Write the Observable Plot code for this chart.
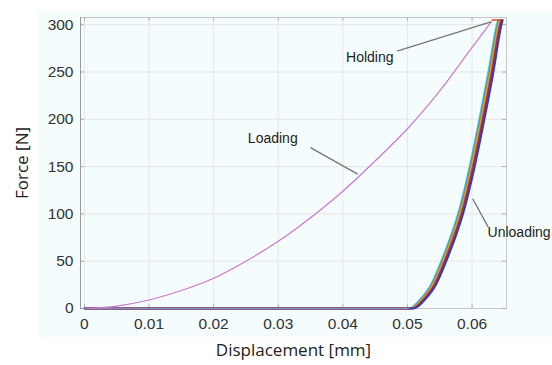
<!DOCTYPE html>
<html>
<head>
<meta charset="utf-8">
<script src="https://cdn.jsdelivr.net/npm/d3@7"></script>
<script src="https://cdn.jsdelivr.net/npm/@observablehq/plot@0.6"></script>
<style>
  html, body { margin: 0; padding: 0; background: #ffffff; }
  #chart { position: relative; width: 552px; height: 365px; }
  .bg { position: absolute; left: 38px; top: 12px; width: 514px; height: 325px; background: #f5fcfe; }
  #chart svg { position: absolute; left: 0; top: 0; }
  #chart svg g[aria-label*="axis"],
  #chart svg g[aria-label*="axis"] text { font-size: 15.5px !important; fill: #333; }
</style>
</head>
<body>
<div id="chart"><div class="bg"></div></div>
<script>
// ---- data ----
const xTicks = [0, 0.01, 0.02, 0.03, 0.04, 0.05, 0.06];
const xTickLabels = ["0", "0.01", "0.02", "0.03", "0.04", "0.05", "0.06"];
const yTicks = [0, 50, 100, 150, 200, 250, 300];

const loadingDisp  = [0.0005, 0.005, 0.01, 0.015, 0.02, 0.025, 0.03, 0.035, 0.04, 0.045, 0.05, 0.055, 0.06, 0.0632];
const loadingForce = [0, 2.5, 9, 19, 32, 50, 71, 96, 124, 156, 190, 230, 276, 305];

const holdingDisp  = [0.0632, 0.0643];
const holdingForce = [305, 305];

const unloadForce = [0, 0, 2, 10, 25, 50, 75, 100, 150, 200, 250, 300, 305];
const unloadColors = ["#4dbeee", "#3a9ee0", "#77ac30", "#edb120", "#d95319", "#c0202a", "#7e2f8e", "#2b3fc0"];
const unloadDisp = [
  [0, 0.05030, 0.05080, 0.05200, 0.05360, 0.05520, 0.05660, 0.05780, 0.05960, 0.06110, 0.06250, 0.06380, 0.06400],
  [0, 0.05042, 0.05092, 0.05212, 0.05372, 0.05532, 0.05672, 0.05792, 0.05972, 0.06122, 0.06262, 0.06392, 0.06411],
  [0, 0.05054, 0.05104, 0.05224, 0.05384, 0.05544, 0.05684, 0.05804, 0.05984, 0.06134, 0.06274, 0.06403, 0.06422],
  [0, 0.05066, 0.05116, 0.05236, 0.05396, 0.05556, 0.05696, 0.05816, 0.05996, 0.06146, 0.06286, 0.06414, 0.06433],
  [0, 0.05078, 0.05128, 0.05248, 0.05408, 0.05568, 0.05708, 0.05828, 0.06008, 0.06158, 0.06298, 0.06425, 0.06444],
  [0, 0.05090, 0.05140, 0.05260, 0.05420, 0.05580, 0.05720, 0.05840, 0.06020, 0.06170, 0.06310, 0.06436, 0.06455],
  [0, 0.05102, 0.05152, 0.05272, 0.05432, 0.05592, 0.05732, 0.05852, 0.06032, 0.06182, 0.06322, 0.06447, 0.06466],
  [0, 0.05114, 0.05164, 0.05284, 0.05444, 0.05604, 0.05744, 0.05864, 0.06044, 0.06194, 0.06334, 0.06458, 0.06477]
];

const annLabels = ["Holding", "Loading", "Unloading"];
const annX = [0.0405, 0.0253, 0.0624];
const annY = [265, 180, 80];
const leaderX1 = [0.0484, 0.0350, 0.0601];
const leaderY1 = [272, 170, 116];
const leaderX2 = [0.0629, 0.0423, 0.0625];
const leaderY2 = [303, 142, 86];

// ---- build tables ----
const loading = loadingDisp.map((d, i) => ({d, f: loadingForce[i]}));
const holding = holdingDisp.map((d, i) => ({d, f: holdingForce[i]}));
const unload = [];
unloadDisp.forEach((arr, s) => arr.forEach((d, i) => unload.push({s, d, f: unloadForce[i]})));
const ann = annLabels.map((t, i) => ({t, x: annX[i], y: annY[i]}));
const leaders = leaderX1.map((x1, i) => ({x1, y1: leaderY1[i], x2: leaderX2[i], y2: leaderY2[i]}));

const font = "Liberation Sans, Arial, Helvetica, sans-serif";
const xMin = -0.0006, xMax = 0.06533, yMax = 307.6;

const chart = Plot.plot({
  width: 552,
  height: 365,
  marginLeft: 80,
  marginRight: 46,
  marginTop: 17,
  marginBottom: 57,
  style: {background: "transparent", fontFamily: font, color: "#333"},
  x: {domain: [xMin, xMax], label: null},
  y: {domain: [0, yMax], label: null},
  marks: [
    Plot.gridX(xTicks, {stroke: "#e6e6e6", strokeOpacity: 1}),
    Plot.gridY(yTicks, {stroke: "#e6e6e6", strokeOpacity: 1}),
    Plot.frame({stroke: "#c8c8c8"}),
    Plot.axisX(xTicks, {tickSize: 0, tickPadding: 9, tickFormat: (d, i) => xTickLabels[i], fontSize: 15.5, fill: "#333", label: null}),
    Plot.axisY(yTicks, {tickSize: 0, tickPadding: 7, fontSize: 15.5, fill: "#333", label: null}),
    Plot.ruleX(xTicks, {x: d => d, y1: 0, y2: 4, stroke: "#b0b0b0"}),
    Plot.ruleX(xTicks, {x: d => d, y1: yMax - 4, y2: yMax, stroke: "#b0b0b0"}),
    Plot.ruleY(yTicks, {y: d => d, x1: xMin, x2: xMin + 0.0006, stroke: "#b0b0b0"}),
    Plot.ruleY(yTicks, {y: d => d, x1: xMax - 0.0006, x2: xMax, stroke: "#b0b0b0"}),
    Plot.ruleX([xMin], {stroke: "#9a9a9a"}),
    Plot.line(unload, {x: "d", y: "f", z: "s", stroke: d => unloadColors[d.s], curve: "monotone-x", strokeWidth: 1.6}),
    Plot.ruleY([0], {stroke: "#7d8fb8", strokeWidth: 1.2, x1: xMin, x2: 0.0503}),
    Plot.line(loading, {x: "d", y: "f", stroke: "#cc77cc", strokeWidth: 1.2, curve: "catmull-rom"}),
    Plot.line(holding, {x: "d", y: "f", stroke: "#d95319", strokeWidth: 1.4}),
    Plot.link(leaders, {x1: "x1", y1: "y1", x2: "x2", y2: "y2", stroke: "#777", strokeWidth: 1.3}),
    Plot.text(ann, {x: "x", y: "y", text: "t", textAnchor: "start", fontSize: 14, fill: "#222", fontFamily: font}),
    Plot.text(["Displacement [mm]"], {frameAnchor: "bottom", textAnchor: "middle", dy: 47, fontSize: 17, fill: "#222", fontFamily: "Open Sans, Noto Sans, sans-serif"}),
    Plot.text(["Force [N]"], {frameAnchor: "left", textAnchor: "middle", dx: -58, rotate: -90, fontSize: 17, fill: "#222", fontFamily: "Open Sans, Noto Sans, sans-serif"})
  ]
});
document.getElementById("chart").appendChild(chart);
</script>
</body>
</html>
